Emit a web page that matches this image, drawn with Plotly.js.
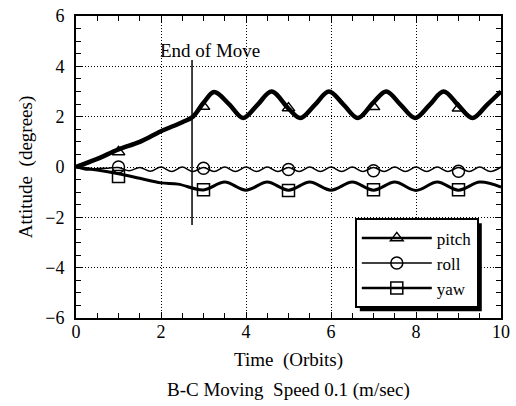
<!DOCTYPE html>
<html><head><meta charset="utf-8">
<script src="https://cdn.plot.ly/plotly-3.0.1.min.js"></script>
<style>html,body{margin:0;padding:0;background:#fff}#chart{width:516px;height:406px}</style>
</head><body><div id="chart"></div>
<script>
// ---- data ----
const pitchX = [0, 0.5, 1.0, 1.5, 2.0, 2.5, 2.75, 3.0, 3.25, 3.6, 3.93, 4.27, 4.6, 5.0, 5.28, 5.62, 5.95, 6.3, 6.63, 7.0, 7.3, 7.64, 7.98, 8.32, 8.65, 9.0, 9.33, 9.67, 10.0];
const pitchY = [0, 0.32, 0.7, 1.0, 1.42, 1.78, 2.0, 2.55, 2.98, 2.5, 1.95, 2.47, 3.0, 2.32, 1.95, 2.47, 3.0, 2.47, 1.95, 2.57, 3.0, 2.47, 1.95, 2.47, 3.0, 2.44, 1.95, 2.47, 3.0];

const rollX = [0, 0.25, 0.5, 0.75, 1.0, 1.25, 1.5, 1.75, 2.0, 2.25, 2.5, 2.75, 3.0, 3.25, 3.5, 3.75, 4.0, 4.25, 4.5, 4.75, 5.0, 5.25, 5.5, 5.75, 6.0, 6.25, 6.5, 6.75, 7.0, 7.25, 7.5, 7.75, 8.0, 8.25, 8.5, 8.75, 9.0, 9.25, 9.5, 9.75, 10.0];
const rollY = [0, -0.12, -0.06, -0.05, -0.02, -0.15, -0.02, -0.17, 0, -0.18, 0, -0.18, -0.02, -0.18, 0, -0.18, 0, -0.18, 0, -0.18, -0.02, -0.18, 0, -0.18, 0, -0.18, 0, -0.18, -0.02, -0.18, 0, -0.18, 0, -0.18, 0, -0.18, -0.02, -0.18, 0, -0.18, 0];

const yawX = [0, 0.5, 1.0, 1.5, 2.0, 2.4, 3.0, 3.5, 4.0, 4.5, 5.0, 5.5, 6.0, 6.5, 7.0, 7.5, 8.0, 8.5, 9.0, 9.5, 10.0];
const yawY = [0, -0.12, -0.27, -0.45, -0.63, -0.68, -0.91, -0.6, -0.92, -0.6, -0.92, -0.6, -0.92, -0.6, -0.92, -0.6, -0.93, -0.6, -0.92, -0.6, -0.8];

// symbol positions (drawn every 2 orbits)
const markerX = [1, 3, 5, 7, 9];
const pitchMarkY = [0.6, 2.4, 2.34, 2.39, 2.33];
const rollMarkY = [0.0, -0.05, -0.1, -0.15, -0.17];
const yawMarkY = [-0.38, -0.9, -0.93, -0.9, -0.9];

const seriesNames = ['pitch', 'roll', 'yaw'];
const moveEndX = 2.73;                    // "End of Move" time
const moveLineY = [-2.3, 4.25];
const xTickVals = [0, 2, 4, 6, 8, 10];
const yTickVals = [-6, -4, -2, 0, 2, 4, 6];

// ---- chart ----
const FONT = "'Liberation Serif', 'Times New Roman', Times, serif";
// isolated symbol points (null between them so no connecting line is drawn)
const gapped = arr => arr.flatMap(v => [v, null]);

function series(name, xs, ys, mys, curveW, legendW, symbol, msize) {
  return [
    {x: xs, y: ys, name: name, legendgroup: name, showlegend: false, mode: 'lines',
     line: {color: '#000', width: curveW, shape: 'spline', smoothing: 1}},
    {x: gapped(markerX), y: gapped(mys), name: name, legendgroup: name, mode: 'lines+markers', connectgaps: false,
     line: {color: '#000', width: legendW},
     marker: {symbol: symbol, size: msize, color: '#000', line: {width: 1.5, color: '#000'}}}
  ];
}

const traces = [].concat(
  series(seriesNames[0], pitchX, pitchY, pitchMarkY, 4.5, 2.5, 'triangle-up-open', 11),
  series(seriesNames[1], rollX, rollY, rollMarkY, 1.5, 1.5, 'circle-open', 12),
  series(seriesNames[2], yawX, yawY, yawMarkY, 3, 2.5, 'square-open', 12)
);

const axisCommon = {
  ticks: 'inside', ticklen: 6, tickwidth: 1, tickcolor: '#000',
  showline: true, linecolor: '#000', linewidth: 2, mirror: 'allticks',
  showgrid: true, gridcolor: '#000', gridwidth: 1, griddash: '1px,2px',
  zeroline: false, automargin: false, tickfont: {family: FONT, size: 18, color: '#000'}
};

const layout = {
  width: 516, height: 406,
  margin: {l: 76, r: 15, t: 16, b: 88, autoexpand: false},
  paper_bgcolor: '#fff', plot_bgcolor: '#fff',
  font: {family: FONT, size: 17, color: '#000'},
  showlegend: true,
  legend: {x: 0.656, y: 0.33, xanchor: 'left', yanchor: 'top', bgcolor: '#fff', bordercolor: '#000', borderwidth: 2,
           font: {family: FONT, size: 17, color: '#000'}, itemwidth: 70, tracegroupgap: 0},
  xaxis: Object.assign({}, axisCommon, {range: [0, 10], tickvals: xTickVals, ticklabelstandoff: -4,
    minor: {dtick: 0.5, tick0: 0, ticks: 'inside', ticklen: 5, tickcolor: '#000', showgrid: false},
    title: {text: 'Time \u00a0(Orbits)', font: {family: FONT, size: 19}, standoff: 12}}),
  yaxis: Object.assign({}, axisCommon, {range: [-6, 6], tickvals: yTickVals, ticklabelstandoff: 6,
    minor: {dtick: 0.5, tick0: 0, ticks: 'inside', ticklen: 5, tickcolor: '#000', showgrid: false},
    title: {text: 'Attitude \u00a0(degrees)', font: {family: FONT, size: 19}, standoff: 8}}),
  annotations: [
    {x: 1.93, y: 4.64, xref: 'x', yref: 'y', xanchor: 'left', yanchor: 'middle', showarrow: false,
     text: 'End of Move', font: {family: FONT, size: 19, color: '#000'}},
    {x: 0.5, y: -0.238, xref: 'paper', yref: 'paper', xanchor: 'center', yanchor: 'middle', showarrow: false,
     text: 'B-C Moving \u00a0Speed 0.1 (m/sec)', font: {family: FONT, size: 19, color: '#000'}}
  ],
  shapes: [
    {type: 'line', xref: 'x', yref: 'y', x0: moveEndX, x1: moveEndX, y0: moveLineY[0], y1: moveLineY[1],
     line: {color: '#000', width: 1.5}, layer: 'above'}
  ]
};

Plotly.newPlot('chart', traces, layout, {displayModeBar: false, staticPlot: true}).then(gd => {
  // drop shadow behind the legend box
  const bg = gd.querySelector('.legend .bg');
  if (!bg) return;
  const r = bg.getBoundingClientRect();
  const c = gd.getBoundingClientRect();
  const fs = gd._fullLayout._size;
  const off = 4;
  const px = v => (v - c.left - fs.l) / fs.w;
  const py = v => 1 - (v - c.top - fs.t) / fs.h;
  const shadow = {type: 'rect', xref: 'paper', yref: 'paper', layer: 'above',
    x0: px(r.left + off), x1: px(r.right + off), y0: py(r.bottom + off), y1: py(r.top + off),
    fillcolor: '#000', line: {width: 0}};
  Plotly.relayout(gd, {shapes: layout.shapes.concat([shadow])});
});
</script>
</body></html>
